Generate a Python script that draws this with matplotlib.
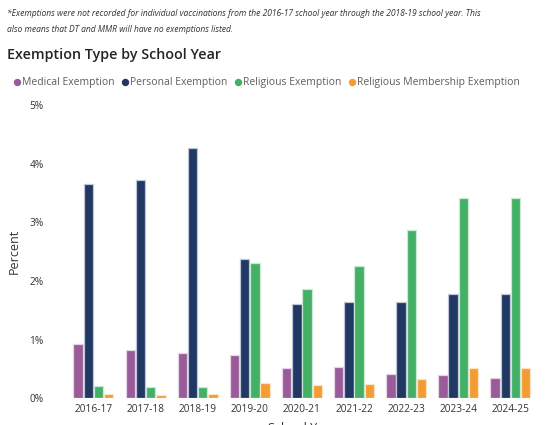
import numpy as np
import matplotlib
matplotlib.use("Agg")
import matplotlib.pyplot as plt
from matplotlib.lines import Line2D

plt.rcParams['font.family'] = ['Open Sans', 'DejaVu Sans']

# data (percent)
years = ["2016-17", "2017-18", "2018-19", "2019-20", "2020-21",
         "2021-22", "2022-23", "2023-24", "2024-25"]
medical = [0.92, 0.82, 0.77, 0.73, 0.51, 0.53, 0.42, 0.40, 0.35]
personal = [3.65, 3.73, 4.26, 2.38, 1.60, 1.64, 1.65, 1.78, 1.78]
religious = [0.21, 0.19, 0.20, 2.30, 1.86, 2.26, 2.87, 3.42, 3.42]
membership = [0.07, 0.05, 0.07, 0.26, 0.22, 0.24, 0.33, 0.51, 0.51]

series = ["Medical Exemption", "Personal Exemption",
          "Religious Exemption", "Religious Membership Exemption"]
colors = ["#9A5B99", "#213864", "#44B067", "#F29C33"]
edges = ["#E6D5E6", "#BFC6D6", "#C9EBD3", "#FCE3C2"]

fig = plt.figure(figsize=(5.49, 4.25), dpi=100)
ax = fig.add_axes([0.1228, 0.0628, 0.8543, 0.690])

x = np.arange(len(years))
slot = 0.196
width = 0.18
for i, vals in enumerate([medical, personal, religious, membership]):
    ax.bar(x + (i - 1.5) * slot, vals, width, color=colors[i],
           edgecolor=edges[i], linewidth=0.9)

ax.set_xlim(-0.5, len(years) - 0.5)
ax.set_ylim(0, 5)
ax.set_yticks([0, 1, 2, 3, 4, 5])
ax.set_yticklabels(["0%", "1%", "2%", "3%", "4%", "5%"])
ax.set_xticks(x)
ax.set_xticklabels(years)
ax.tick_params(axis='both', length=0, labelsize=7.3, colors='#333333')
ax.tick_params(axis='y', pad=17)
ax.tick_params(axis='x', pad=4)
for s in ax.spines.values():
    s.set_visible(False)
ax.set_ylabel("Percent", fontsize=9, color='#333333', labelpad=6)
ax.set_xlabel("School Year", fontsize=9, color='#333333', labelpad=5)

fig.text(0.013, 1 - 14 / 425, "*Exemptions were not recorded for individual vaccinations from the 2016-17 school year through the 2018-19 school year. This",
         fontsize=6.15, style='italic', color='#333333', va='center')
fig.text(0.013, 1 - 29 / 425, "also means that DT and MMR will have no exemptions listed.",
         fontsize=6.15, style='italic', color='#333333', va='center')
fig.text(0.013, 1 - 55 / 425, "Exemption Type by School Year",
         fontsize=10.3, weight='semibold', color='#252423', va='center')

handles = [Line2D([], [], marker='o', linestyle='', color=c, markersize=4.3)
           for c in colors]
fig.legend(handles, series, loc='center left',
           bbox_to_anchor=(0.022, 1 - 83 / 425), ncol=4, frameon=False,
           fontsize=7.45, handletextpad=0.05, columnspacing=0.55,
           borderaxespad=0, borderpad=0, labelcolor='#605E5C',
           handlelength=0.9)

fig.savefig("out.png", dpi=100)
